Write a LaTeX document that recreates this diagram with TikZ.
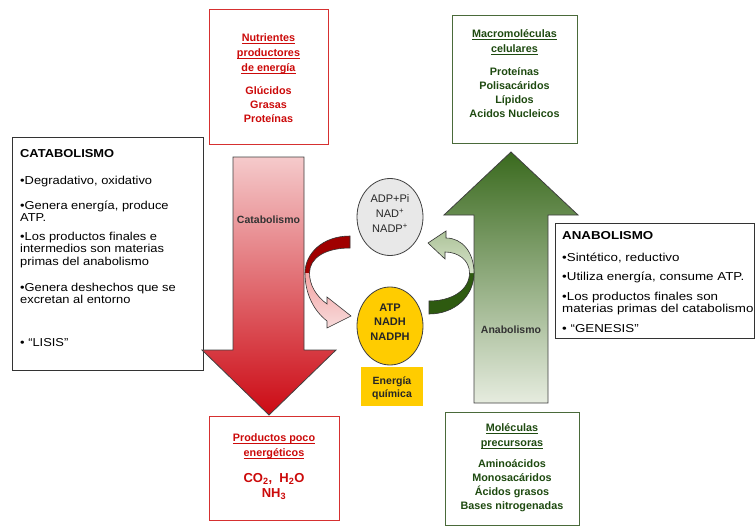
\documentclass[tikz,border=0pt]{standalone}
\usepackage{fontspec}
\setmainfont{Liberation Sans}
\newfontfamily\bodyfont[FakeStretch=1.12]{Liberation Sans}
\newfontfamily\rbodyfont[FakeStretch=1.16]{Liberation Sans}
\newsavebox{\myulbox}
\newcommand{\thul}[1]{\sbox{\myulbox}{#1}\leavevmode\rlap{\vrule width\wd\myulbox height -1.9pt depth 3.2pt}\usebox{\myulbox}}
\usetikzlibrary{shapes.geometric}
\definecolor{boxred}{HTML}{D63030}
\definecolor{txtred}{HTML}{CC0A0A}
\definecolor{boxgreen}{HTML}{4A6A3A}
\definecolor{txtgreen}{HTML}{1E4A10}
\definecolor{arrtopred}{HTML}{F5CACB}
\definecolor{arrbotred}{HTML}{CC0A14}
\definecolor{arrtopgreen}{HTML}{3A6A1E}
\definecolor{arrbotgreen}{HTML}{E6ECDF}
\definecolor{darkred}{HTML}{A00000}
\definecolor{pinkarr}{HTML}{F2C2C2}
\definecolor{darkgreen}{HTML}{2E5A10}
\definecolor{lightgreen}{HTML}{C4D6B2}
\definecolor{gold}{HTML}{FFCC00}
\newcommand{\tstrut}{\rule{0pt}{11pt}}
\tikzset{
  boxbase/.style={inner sep=0, anchor=north west, fill=white},
  redbox/.style={boxbase, draw=boxred, line width=0.9pt},
  greenbox/.style={boxbase, draw=boxgreen, line width=0.9pt},
  blackbox/.style={boxbase, draw=black!80, line width=0.8pt},
  ttl/.style={inner sep=0, anchor=north, align=center, font=\bfseries\fontsize{10.8}{15}\selectfont},
  itemlist/.style={inner sep=0, anchor=north, align=center, font=\bfseries\fontsize{10.8}{14}\selectfont},
  para/.style={inner sep=0, anchor=north west, align=left, font=\bodyfont\fontsize{11.5}{12.7}\selectfont},
  rpara/.style={inner sep=0, anchor=north west, align=left, font=\rbodyfont\fontsize{11.5}{12.5}\selectfont},
  bigarrow/.style={draw=black!75, line width=0.8pt},
  arrlabel/.style={inner sep=0, font=\bfseries\fontsize{10.5}{12}\selectfont, text=black!80},
  curvedge/.style={draw=black!80, line width=0.6pt},
}
\begin{document}
\begin{tikzpicture}[x=1pt,y=-1pt]
\useasboundingbox (0,0) rectangle (756,527);
\fill[white] (0,0) rectangle (756,527);

% ---- top red box
\node[redbox, minimum width=119, minimum height=135] (nutbox) at (209,9) {};
\node[ttl, text=txtred] (nuttitle) at (268.5,30) {\tstrut\thul{Nutrientes}\\\thul{productores}\\\thul{de energía}};
\node[itemlist, text=txtred] (nutitems) at (268.5,83) {\tstrut Glúcidos\\Grasas\\Proteínas};

% ---- top green box
\node[greenbox, minimum width=125, minimum height=128] (macbox) at (452,15) {};
\node[ttl, text=txtgreen] (mactitle) at (514.5,26) {\tstrut\thul{Macromoléculas}\\\thul{celulares}};
\node[itemlist, text=txtgreen] (macitems) at (514.5,64) {\tstrut Proteínas\\Polisacáridos\\Lípidos\\Acidos Nucleicos};

% ---- bottom red box
\node[redbox, minimum width=130, minimum height=104] (prodbox) at (209,416) {};
\node[ttl, text=txtred] (prodtitle) at (274,430) {\tstrut\thul{Productos poco}\\\thul{energéticos}};
\node[inner sep=0, anchor=north, align=center, text=txtred, font=\bfseries\fontsize{13}{15}\selectfont] (prodform) at (274,471) {\tstrut CO\textsubscript{2},\ \ H\textsubscript{2}O\\NH\textsubscript{3}};

% ---- bottom green box
\node[greenbox, minimum width=134, minimum height=113] (molbox) at (445,412) {};
\node[ttl, text=txtgreen] (moltitle) at (512,420) {\tstrut\thul{Moléculas}\\\thul{precursoras}};
\node[itemlist, text=txtgreen] (molitems) at (512,456) {\tstrut Aminoácidos\\Monosacáridos\\Ácidos grasos\\Bases nitrogenadas};

% ---- catabolismo box
\node[blackbox, minimum width=191, minimum height=233] (catbox) at (12,137) {};
\node[para, font=\bodyfont\bfseries\fontsize{11.5}{12.7}\selectfont] (cat0) at (20,146) {\tstrut CATABOLISMO};
\node[para] (cat1) at (20,173) {\tstrut•Degradativo, oxidativo};
\node[para] (cat2) at (20,198) {\tstrut•Genera energía, produce\\ATP.};
\node[para] (cat3) at (20,229) {\tstrut•Los productos finales e\\intermedios son materias\\primas del anabolismo};
\node[para] (cat4) at (20,280) {\tstrut•Genera deshechos que se\\excretan al entorno};
\node[para] (cat5) at (20,335) {\tstrut• “LISIS”};

% ---- anabolismo box
\node[blackbox, minimum width=199, minimum height=115] (anabox) at (555,223) {};
\node[rpara, font=\rbodyfont\bfseries\fontsize{11.5}{12.5}\selectfont] (ana0) at (562,228) {\tstrut ANABOLISMO};
\node[rpara] (ana1) at (562,250) {\tstrut•Sintético, reductivo};
\node[rpara] (ana2) at (562,269) {\tstrut•Utiliza energía, consume ATP.};
\node[rpara] (ana3) at (562,289) {\tstrut•Los productos finales son\\materias primas del catabolismo};
\node[rpara] (ana4) at (562,321) {\tstrut• “GENESIS”};

% ---- big arrows
\shadedraw[bigarrow, top color=arrtopred, bottom color=arrbotred]
  (233,157) -- (304,157) -- (304,350) -- (336,350) -- (269,415) -- (202,350) -- (233,350) -- cycle;
\shadedraw[bigarrow, top color=arrtopgreen, bottom color=arrbotgreen]
  (511,152) -- (578,215) -- (548,215) -- (548,403) -- (474,403) -- (474,215) -- (444,215) -- cycle;
\node[arrlabel] (catlabel) at (268.5,220) {Catabolismo};
\node[arrlabel] (analabel) at (511,330) {Anabolismo};

% ---- circles
\node[ellipse, draw=black!75, fill=black!9, line width=0.8pt, minimum width=66, minimum height=77, inner sep=0] (adp) at (390,217) {};
\node[inner sep=0, anchor=north, align=center, text=black!85, font=\fontsize{11}{15}\selectfont] (adptext) at (390,191) {\tstrut ADP+Pi\\NAD\textsuperscript{+}\\NADP\textsuperscript{+}};
\node[ellipse, draw=black!75, fill=gold, line width=0.8pt, minimum width=66, minimum height=78, inner sep=0] (atp) at (390,326) {};
\node[inner sep=0, anchor=north, align=center, text=black!85, font=\bfseries\fontsize{11}{14.5}\selectfont] (atptext) at (390,300) {\tstrut ATP\\NADH\\NADPH};
\node[fill=gold, minimum width=62, minimum height=39, inner sep=0] (energia) at (392,386.5) {};
\node[inner sep=0, anchor=north, align=center, text=black!85, font=\bfseries\fontsize{10.5}{13}\selectfont] (energiatext) at (392,373) {\tstrut Energía\\química};

% ---- curved red arrow
\fill[darkred] (350,236) .. controls (322,236) and (305,254) .. (305,273) -- (309.5,273) .. controls (309.5,258) and (325,248) .. (350,248) -- cycle;
\shade[top color=pinkarr!85!red, bottom color=pinkarr!60!white] (305,273) .. controls (305,294) and (314,311) .. (327,321) -- (327,328) -- (351,316) -- (327,297) -- (327,304) .. controls (316,296) and (309.5,285) .. (309.5,273) -- cycle;
\draw[curvedge] (350,236) .. controls (322,236) and (305,254) .. (305,273) .. controls (305,294) and (314,311) .. (327,321) -- (327,328) -- (351,316) -- (327,297) -- (327,304) .. controls (316,296) and (309.5,285) .. (309.5,273) .. controls (309.5,258) and (325,248) .. (350,248) -- cycle;

% ---- curved green arrow
\fill[darkgreen] (429,301) -- (429,314) .. controls (455,314) and (474,296) .. (474,273) -- (469.5,273) .. controls (469.5,290) and (452,301) .. (429,301) -- cycle;
\shade[top color=lightgreen!85!darkgreen, bottom color=lightgreen!70!white] (474,273) .. controls (474,252) and (462,238) .. (446,238) -- (446,231) -- (428,243) -- (445,259) -- (445,252) .. controls (458,252) and (469.5,260) .. (469.5,273) -- cycle;
\draw[curvedge] (429,301) -- (429,314) .. controls (455,314) and (474,296) .. (474,273) .. controls (474,252) and (462,238) .. (446,238) -- (446,231) -- (428,243) -- (445,259) -- (445,252) .. controls (458,252) and (469.5,260) .. (469.5,273) .. controls (469.5,290) and (452,301) .. (429,301) -- cycle;
\end{tikzpicture}
\end{document}
